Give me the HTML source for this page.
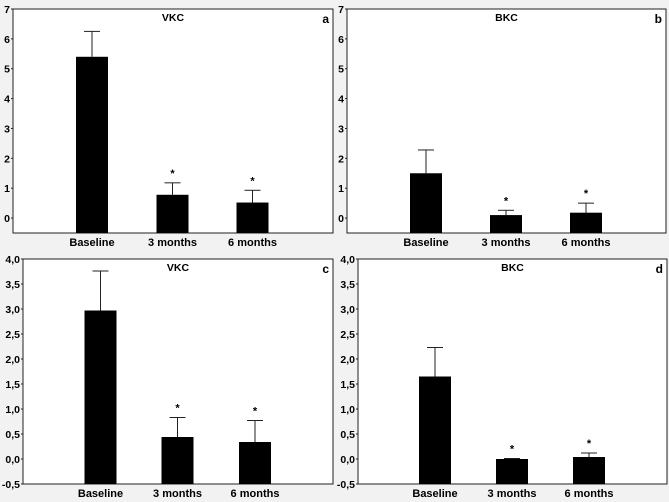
<!DOCTYPE html>
<html><head><meta charset="utf-8"><style>
body{margin:0;background:#f2f2f2;}
svg{display:block;font-family:"Liberation Sans",Arial,sans-serif;font-weight:bold;}
</style></head><body>
<svg id="chart" width="669" height="502"></svg>
<script>
const categories = ["Baseline","3 months","6 months"];
const valuesA = [5.4, 0.78, 0.52];
const errorsA = [6.25, 1.18, 0.93];
const valuesB = [1.5, 0.1, 0.18];
const errorsB = [2.28, 0.26, 0.5];
const valuesC = [2.97, 0.44, 0.34];
const errorsC = [3.76, 0.83, 0.77];
const valuesD = [1.65, 0.0, 0.04];
const errorsD = [2.23, 0.01, 0.12];
const ticksTop = [0,1,2,3,4,5,6,7];
const tickLabelsTop = ["0","1","2","3","4","5","6","7"];
const ticksBottom = [-0.5,0,0.5,1,1.5,2,2.5,3,3.5,4];
const tickLabelsBottom = ["-0,5","0,0","0,5","1,0","1,5","2,0","2,5","3,0","3,5","4,0"];
const starred = [false,true,true];

const NS="http://www.w3.org/2000/svg";
const svg=document.getElementById('chart');
function mk(tag,attrs,parent){const e=document.createElementNS(NS,tag);for(const k in attrs)e.setAttribute(k,attrs[k]);(parent||svg).appendChild(e);return e;}

const panels=[
 {id:'a',title:'VKC',vals:valuesA,errs:errorsA,x0:13,x1:333,y0:9,y1:233,min:-0.5,max:7,ticks:ticksTop,labels:tickLabelsTop,bars:[92,172.5,252.5],lblY:246},
 {id:'b',title:'BKC',vals:valuesB,errs:errorsB,x0:347,x1:666,y0:9,y1:233,min:-0.5,max:7,ticks:ticksTop,labels:tickLabelsTop,bars:[426,506,586],lblY:246},
 {id:'c',title:'VKC',vals:valuesC,errs:errorsC,x0:23,x1:333,y0:259,y1:484,min:-0.5,max:4,ticks:ticksBottom,labels:tickLabelsBottom,bars:[100.5,177.5,255],lblY:497},
 {id:'d',title:'BKC',vals:valuesD,errs:errorsD,x0:358,x1:667,y0:259,y1:484,min:-0.5,max:4,ticks:ticksBottom,labels:tickLabelsBottom,bars:[435,512,589],lblY:497}
];
panels.forEach(p=>{
 const g=mk('g',{});
 
 
 const y=v=>p.y1-(v-p.min)/(p.max-p.min)*(p.y1-p.y0);
 const fr=mk('rect',{x:p.x0,y:p.y0,width:p.x1-p.x0,height:p.y1-p.y0,fill:'#fff',stroke:'#222','stroke-width':1},g);
 
 
 p.ticks.forEach((t,i)=>{
  const tl=mk('line',{x1:p.x0-2,x2:p.x0,y1:y(t),y2:y(t),stroke:'#222'},g);
  
  
  const tx=mk('text',{x:p.x0-3,y:y(t)+4,'text-anchor':'end','font-size':10.5},g);
  tx.textContent=p.labels[i];
  
  
 });
 const tt=mk('text',{x:(p.x0+p.x1)/2,y:p.y0+12,'text-anchor':'middle','font-size':10.5},g);
 tt.textContent=p.title;
 
 
 const pl=mk('text',{x:p.x1-4,y:p.y0+14,'text-anchor':'end','font-size':12},g);
 pl.textContent=p.id;
 
 
 const bw=32;
 categories.forEach((c,i)=>{
  const cx=p.bars[i];
  const e=mk('line',{x1:cx,x2:cx,y1:y(p.errs[i]),y2:y(p.vals[i]),stroke:'#222'},g);
  
  
  const cap=mk('line',{x1:cx-8,x2:cx+8,y1:y(p.errs[i]),y2:y(p.errs[i]),stroke:'#222'},g);
  
  
  const b=mk('rect',{x:cx-bw/2,y:y(p.vals[i]),width:bw,height:p.y1-y(p.vals[i]),fill:'#000'},g);
  
  
  if(starred[i]){
   const s=mk('text',{x:cx,y:y(p.errs[i])-6,'text-anchor':'middle','font-size':11},g);
   s.textContent='*';
   
   
  }
  const l=mk('text',{x:cx,y:p.lblY,'text-anchor':'middle','font-size':11},g);
  l.textContent=c;
  
  
 });
});
</script>
</body></html>
